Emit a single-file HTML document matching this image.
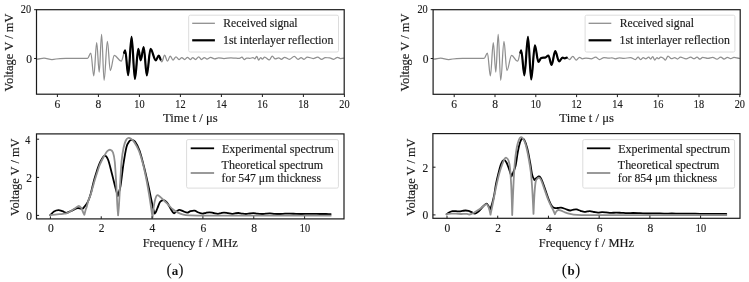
<!DOCTYPE html>
<html><head><meta charset="utf-8"><title>Figure</title>
<style>html,body{margin:0;padding:0;background:#fff;width:749px;height:282px;overflow:hidden;font-family:"Liberation Serif",serif}svg{display:block;will-change:transform}text{stroke:#1a1a1a;stroke-width:0.15px;paint-order:fill}</style>
</head><body>
<svg width="749" height="282" viewBox="0 0 749 282" font-family='"Liberation Serif", serif'>
<path d="M37.2,59.2 C39.65,59.2 41.55,58.2 44,58.2 C46.88,58.2 49.12,59.5 52,59.5 C54.88,59.5 57.12,58.5 60,58.5 C64.32,58.5 67.68,58.4 72,58.4 C77.58,58.4 81.92,58.4 87.5,58.4 C88.69,58.4 89.61,53 90.8,53 C91.88,53 92.72,75.9 93.8,75.9 C94.84,75.9 95.66,42.7 96.7,42.7 C97.6,42.7 98.3,72 99.2,72 C100.06,72 100.74,34.3 101.6,34.3 C102.5,34.3 103.2,80.3 104.1,80.3 C105.29,80.3 106.21,41.3 107.4,41.3 C108.44,41.3 109.26,70.6 110.3,70.6 C111.74,70.6 112.86,55.4 114.3,55.4 C116.78,55.4 118.72,61.1 121.2,61.1 C122.64,61.1 123.76,50.4 125.2,50.4 C126.28,50.4 127.12,75.2 128.2,75.2 C129.42,75.2 130.38,36.8 131.6,36.8 C132.79,36.8 133.71,78.9 134.9,78.9 C136.12,78.9 137.08,48.8 138.3,48.8 C139.16,48.8 139.84,60.3 140.7,60.3 C141.78,60.3 142.62,47 143.7,47 C144.82,47 145.68,75.4 146.8,75.4 C148.13,75.4 149.17,48.9 150.5,48.9 C152.41,48.9 153.89,60.3 155.8,60.3 C156.88,60.3 157.72,55.6 158.8,55.6 C159.88,55.6 160.72,61.8 161.8,61.8 C162.81,61.8 163.59,55.2 164.6,55.2 C165.64,55.2 166.46,61.2 167.5,61.2 C168.47,61.2 169.23,56 170.2,56 C171.21,56 171.99,60 173,60 C174.08,60 174.92,56.8 176,56.8 C177.08,56.8 177.92,59.6 179,59.6 C180.01,59.6 180.79,57.6 181.8,57.6 C182.81,57.6 183.59,59.5 184.6,59.5 C185.64,59.5 186.46,57.4 187.5,57.4 C188.51,57.4 189.29,59.5 190.3,59.5 C191.16,59.5 191.84,57.6 192.7,57.6 C193.71,57.6 194.49,59.5 195.5,59.5 C196.65,59.5 197.55,56.8 198.7,56.8 C199.71,56.8 200.49,59.5 201.5,59.5 C202.51,59.5 203.29,57.6 204.3,57.6 C205.27,57.6 206.03,59 207,59 C208.3,59 209.3,57.4 210.6,57.4 C212.04,57.4 213.16,58.8 214.6,58.8 C216.04,58.8 217.16,57.8 218.6,57.8 C220.54,57.8 222.06,58.5 224,58.5 C226.52,58.5 228.48,57.9 231,57.9 C232.8,57.9 234.2,58.2 236,58.2 C237.26,58.2 238.24,58.4 239.5,58.4 C240.36,58.4 241.04,57.2 241.9,57.2 C242.76,57.2 243.44,59.6 244.3,59.6 C245.16,59.6 245.84,58 246.7,58 C247.85,58 248.75,58.4 249.9,58.4 C251.02,58.4 251.88,57.6 253,57.6 C253.61,57.6 254.09,58.8 254.7,58.8 C255.42,58.8 255.98,56.4 256.7,56.4 C257.42,56.4 257.98,60 258.7,60 C259.42,60 259.98,57.6 260.7,57.6 C261.28,57.6 261.72,59.2 262.3,59.2 C263.13,59.2 263.77,57.2 264.6,57.2 C266.29,57.2 267.61,59.9 269.3,59.9 C270.38,59.9 271.22,56.2 272.3,56.2 C273.34,56.2 274.16,58.9 275.2,58.9 C276.46,58.9 277.44,57.9 278.7,57.9 C279.67,57.9 280.43,59.3 281.4,59.3 C282.55,59.3 283.45,57.3 284.6,57.3 C286.29,57.3 287.61,59.3 289.3,59.3 C291.1,59.3 292.5,56.4 294.3,56.4 C295.67,56.4 296.73,59.3 298.1,59.3 C299.18,59.3 300.02,57.6 301.1,57.6 C302.14,57.6 302.96,59.3 304,59.3 C305.19,59.3 306.11,57 307.3,57 C309.42,57 311.08,58.5 313.2,58.5 C314.78,58.5 316.02,57.2 317.6,57.2 C319.08,57.2 320.22,59.3 321.7,59.3 C322.96,59.3 323.94,57.6 325.2,57.6 C326.78,57.6 328.02,57.9 329.6,57.9 C331.08,57.9 332.22,59.3 333.7,59.3 C335.07,59.3 336.13,57.3 337.5,57.3 C338.58,57.3 339.42,58.5 340.5,58.5 C341.65,58.5 342.55,58.2 343.7,58.2" fill="none" stroke="#8f8f8f" stroke-width="1.25" stroke-linejoin="round" stroke-linecap="round"/>
<path d="M124.1,52.8 C124.47,52 124.83,50.4 125.2,50.4 C126.28,50.4 127.12,75.2 128.2,75.2 C129.42,75.2 130.38,36.8 131.6,36.8 C132.79,36.8 133.71,78.9 134.9,78.9 C136.12,78.9 137.08,48.8 138.3,48.8 C139.16,48.8 139.84,60.3 140.7,60.3 C141.78,60.3 142.62,47 143.7,47 C144.82,47 145.68,75.4 146.8,75.4 C148.13,75.4 149.17,48.9 150.5,48.9 C152.41,48.9 153.89,60.3 155.8,60.3 C156.88,60.3 157.72,55.6 158.8,55.6 C159.4,55.6 160,58.27 160.6,59.6" fill="none" stroke="#000" stroke-width="2.2" stroke-linejoin="round" stroke-linecap="round"/>
<rect x="36.5" y="9.7" width="307.7" height="84.5" fill="none" stroke="#1a1a1a" stroke-width="1.2"/>
<line x1="34.1" y1="9.7" x2="36.5" y2="9.7" stroke="#1a1a1a" stroke-width="1.0"/>
<line x1="34.1" y1="58.5" x2="36.5" y2="58.5" stroke="#1a1a1a" stroke-width="1.0"/>
<text x="31.1" y="13.4" font-size="11.5" text-anchor="end" fill="#1a1a1a" textLength="10.3" lengthAdjust="spacingAndGlyphs">20</text>
<text x="31.9" y="62.7" font-size="11.5" text-anchor="end" fill="#1a1a1a">0</text>
<line x1="57.4" y1="94.2" x2="57.4" y2="97" stroke="#1a1a1a" stroke-width="1.0"/>
<text x="57.4" y="107.8" font-size="11.5" text-anchor="middle" fill="#1a1a1a">6</text>
<line x1="98.4" y1="94.2" x2="98.4" y2="97" stroke="#1a1a1a" stroke-width="1.0"/>
<text x="98.4" y="107.8" font-size="11.5" text-anchor="middle" fill="#1a1a1a">8</text>
<line x1="139.4" y1="94.2" x2="139.4" y2="97" stroke="#1a1a1a" stroke-width="1.0"/>
<text x="139.4" y="107.8" font-size="11.5" text-anchor="middle" fill="#1a1a1a" textLength="10.3" lengthAdjust="spacingAndGlyphs">10</text>
<line x1="180.4" y1="94.2" x2="180.4" y2="97" stroke="#1a1a1a" stroke-width="1.0"/>
<text x="180.4" y="107.8" font-size="11.5" text-anchor="middle" fill="#1a1a1a" textLength="10.3" lengthAdjust="spacingAndGlyphs">12</text>
<line x1="221.4" y1="94.2" x2="221.4" y2="97" stroke="#1a1a1a" stroke-width="1.0"/>
<text x="221.4" y="107.8" font-size="11.5" text-anchor="middle" fill="#1a1a1a" textLength="10.3" lengthAdjust="spacingAndGlyphs">14</text>
<line x1="262.4" y1="94.2" x2="262.4" y2="97" stroke="#1a1a1a" stroke-width="1.0"/>
<text x="262.4" y="107.8" font-size="11.5" text-anchor="middle" fill="#1a1a1a" textLength="10.3" lengthAdjust="spacingAndGlyphs">16</text>
<line x1="303.4" y1="94.2" x2="303.4" y2="97" stroke="#1a1a1a" stroke-width="1.0"/>
<text x="303.4" y="107.8" font-size="11.5" text-anchor="middle" fill="#1a1a1a" textLength="10.3" lengthAdjust="spacingAndGlyphs">18</text>
<line x1="344.4" y1="94.2" x2="344.4" y2="97" stroke="#1a1a1a" stroke-width="1.0"/>
<text x="344.4" y="107.8" font-size="11.5" text-anchor="middle" fill="#1a1a1a" textLength="10.3" lengthAdjust="spacingAndGlyphs">20</text>
<text x="190.35" y="122.4" font-size="11.5" text-anchor="middle" fill="#1a1a1a" textLength="54.6" lengthAdjust="spacingAndGlyphs">Time t / μs</text>
<text transform="translate(12.7,52.5) rotate(-90)" font-size="11.5" text-anchor="middle" fill="#1a1a1a" textLength="78" lengthAdjust="spacingAndGlyphs">Voltage V / mV</text>
<rect x="188.7" y="15.2" width="149.8" height="36.8" rx="1.5" fill="#fff" fill-opacity="0.8" stroke="#dcdcdc" stroke-width="1"/>
<line x1="192.2" y1="23.3" x2="214.9" y2="23.3" stroke="#8f8f8f" stroke-width="1.3"/>
<line x1="192.2" y1="40.3" x2="214.9" y2="40.3" stroke="#000" stroke-width="2.2"/>
<text x="223.3" y="27.4" font-size="11.5" text-anchor="start" fill="#1a1a1a" textLength="74.3" lengthAdjust="spacingAndGlyphs">Received signal</text>
<text x="223.1" y="44.2" font-size="11.5" text-anchor="start" fill="#1a1a1a" textLength="110.3" lengthAdjust="spacingAndGlyphs">1st interlayer reflection</text>
<path d="M433.8,59.2 C436.25,59.2 438.15,58.2 440.6,58.2 C443.48,58.2 445.72,59.5 448.6,59.5 C451.48,59.5 453.72,58.5 456.6,58.5 C460.92,58.5 464.28,58.4 468.6,58.4 C474.18,58.4 478.52,58.4 484.1,58.4 C485.29,58.4 486.21,53 487.4,53 C488.48,53 489.32,75.9 490.4,75.9 C491.44,75.9 492.26,42.7 493.3,42.7 C494.2,42.7 494.9,72 495.8,72 C496.66,72 497.34,34.3 498.2,34.3 C499.1,34.3 499.8,80.3 500.7,80.3 C501.89,80.3 502.81,41.3 504,41.3 C505.04,41.3 505.86,70.6 506.9,70.6 C508.59,70.6 509.91,55.4 511.6,55.4 C513.72,55.4 515.38,61.2 517.5,61.2 C518.83,61.2 519.87,50.4 521.2,50.4 C522.35,50.4 523.25,75.3 524.4,75.3 C525.7,75.3 526.7,36.8 528,36.8 C529.15,36.8 530.05,79.5 531.2,79.5 C532.53,79.5 533.57,45.3 534.9,45.3 C536.16,45.3 537.14,61.9 538.4,61.9 C539.27,61.9 540.13,58.65 541,58.1 C542.4,57.21 543.8,57.6 545.2,57.6 C546.35,57.6 547.25,55.5 548.4,55.5 C549.55,55.5 550.45,64.9 551.6,64.9 C552.9,64.9 553.9,51.2 555.2,51.2 C556.6,51.2 557.7,61.5 559.1,61.5 C560.32,61.5 561.28,57.6 562.5,57.6 C563.33,57.6 563.97,58.3 564.8,58.3 C565.48,58.3 566.02,57.7 566.7,57.7 C567.74,57.7 568.56,59.5 569.6,59.5 C570.75,59.5 571.65,56.3 572.8,56.3 C574.06,56.3 575.04,60.1 576.3,60.1 C577.45,60.1 578.35,57.3 579.5,57.3 C580.51,57.3 581.29,58.8 582.3,58.8 C583.63,58.8 584.67,58.1 586,58.1 C587.87,58.1 589.33,58.8 591.2,58.8 C592.78,58.8 594.02,57.2 595.6,57.2 C597.04,57.2 598.16,59.6 599.6,59.6 C601.18,59.6 602.42,57.6 604,57.6 C605.8,57.6 607.2,58.2 609,58.2 C610.08,58.2 610.92,57.8 612,57.8 C613.15,57.8 614.05,58.8 615.2,58.8 C616.64,58.8 617.76,57.8 619.2,57.8 C620.93,57.8 622.27,58.4 624,58.4 C626.34,58.4 628.16,57.6 630.5,57.6 C632.23,57.6 633.57,59.6 635.3,59.6 C636.31,59.6 637.09,57.2 638.1,57.2 C638.96,57.2 639.64,59.6 640.5,59.6 C641.51,59.6 642.29,57.6 643.3,57.6 C644.16,57.6 644.84,58.8 645.7,58.8 C646.78,58.8 647.62,57.2 648.7,57.2 C649.42,57.2 649.98,59 650.7,59 C651.42,59 651.98,56.5 652.7,56.5 C653.42,56.5 653.98,60 654.7,60 C655.53,60 656.17,57.5 657,57.5 C657.5,57.5 657.9,58.7 658.4,58.7 C659.23,58.7 659.87,57.2 660.7,57.2 C661.6,57.2 662.5,57.74 663.4,58.3 C664.07,58.71 664.73,60.1 665.4,60.1 C666.34,60.1 667.06,56.1 668,56.1 C669.22,56.1 670.18,58.7 671.4,58.7 C672.59,58.7 673.51,57.7 674.7,57.7 C675.67,57.7 676.43,59 677.4,59 C678.48,59 679.32,57.2 680.4,57.2 C682.45,57.2 684.05,58.8 686.1,58.8 C687.76,58.8 689.04,57.2 690.7,57.2 C691.89,57.2 692.81,58.7 694,58.7 C695.08,58.7 695.92,57.2 697,57.2 C698.08,57.2 698.92,59.2 700,59.2 C700.97,59.2 701.73,57.3 702.7,57.3 C704.61,57.3 706.09,58.3 708,58.3 C709.69,58.3 711.01,57.3 712.7,57.3 C714.25,57.3 715.45,59.2 717,59.2 C718.33,59.2 719.37,57 720.7,57 C721.89,57 722.81,59 724,59 C725.22,59 726.18,57.3 727.4,57.3 C728.59,57.3 729.51,58.7 730.7,58.7 C731.89,58.7 732.81,57.3 734,57.3 C735.98,57.3 737.52,58.3 739.5,58.3" fill="none" stroke="#8f8f8f" stroke-width="1.25" stroke-linejoin="round" stroke-linecap="round"/>
<path d="M520.4,52.6 C520.67,51.87 520.93,50.4 521.2,50.4 C522.35,50.4 523.25,75.3 524.4,75.3 C525.7,75.3 526.7,36.8 528,36.8 C529.15,36.8 530.05,79.5 531.2,79.5 C532.53,79.5 533.57,45.3 534.9,45.3 C536.16,45.3 537.14,61.9 538.4,61.9 C539.27,61.9 540.13,58.65 541,58.1 C542.4,57.21 543.8,57.6 545.2,57.6 C546.35,57.6 547.25,55.5 548.4,55.5 C549.55,55.5 550.45,64.9 551.6,64.9 C552.9,64.9 553.9,51.2 555.2,51.2 C556.6,51.2 557.7,61.5 559.1,61.5 C560.32,61.5 561.28,57.6 562.5,57.6 C563.33,57.6 563.97,58.3 564.8,58.3 C565.48,58.3 566.02,57.7 566.7,57.7" fill="none" stroke="#000" stroke-width="2.2" stroke-linejoin="round" stroke-linecap="round"/>
<rect x="433.1" y="9.7" width="307.1" height="84.6" fill="none" stroke="#1a1a1a" stroke-width="1.2"/>
<line x1="430.7" y1="9.7" x2="433.1" y2="9.7" stroke="#1a1a1a" stroke-width="1.0"/>
<line x1="430.7" y1="58.5" x2="433.1" y2="58.5" stroke="#1a1a1a" stroke-width="1.0"/>
<text x="427.7" y="13.4" font-size="11.5" text-anchor="end" fill="#1a1a1a" textLength="10.3" lengthAdjust="spacingAndGlyphs">20</text>
<text x="428.5" y="62.7" font-size="11.5" text-anchor="end" fill="#1a1a1a">0</text>
<line x1="454.2" y1="94.3" x2="454.2" y2="97.1" stroke="#1a1a1a" stroke-width="1.0"/>
<text x="454.2" y="107.8" font-size="11.5" text-anchor="middle" fill="#1a1a1a">6</text>
<line x1="495" y1="94.3" x2="495" y2="97.1" stroke="#1a1a1a" stroke-width="1.0"/>
<text x="495" y="107.8" font-size="11.5" text-anchor="middle" fill="#1a1a1a">8</text>
<line x1="535.8" y1="94.3" x2="535.8" y2="97.1" stroke="#1a1a1a" stroke-width="1.0"/>
<text x="535.8" y="107.8" font-size="11.5" text-anchor="middle" fill="#1a1a1a" textLength="10.3" lengthAdjust="spacingAndGlyphs">10</text>
<line x1="576.6" y1="94.3" x2="576.6" y2="97.1" stroke="#1a1a1a" stroke-width="1.0"/>
<text x="576.6" y="107.8" font-size="11.5" text-anchor="middle" fill="#1a1a1a" textLength="10.3" lengthAdjust="spacingAndGlyphs">12</text>
<line x1="617.4" y1="94.3" x2="617.4" y2="97.1" stroke="#1a1a1a" stroke-width="1.0"/>
<text x="617.4" y="107.8" font-size="11.5" text-anchor="middle" fill="#1a1a1a" textLength="10.3" lengthAdjust="spacingAndGlyphs">14</text>
<line x1="658.2" y1="94.3" x2="658.2" y2="97.1" stroke="#1a1a1a" stroke-width="1.0"/>
<text x="658.2" y="107.8" font-size="11.5" text-anchor="middle" fill="#1a1a1a" textLength="10.3" lengthAdjust="spacingAndGlyphs">16</text>
<line x1="699" y1="94.3" x2="699" y2="97.1" stroke="#1a1a1a" stroke-width="1.0"/>
<text x="699" y="107.8" font-size="11.5" text-anchor="middle" fill="#1a1a1a" textLength="10.3" lengthAdjust="spacingAndGlyphs">18</text>
<line x1="739.8" y1="94.3" x2="739.8" y2="97.1" stroke="#1a1a1a" stroke-width="1.0"/>
<text x="739.8" y="107.8" font-size="11.5" text-anchor="middle" fill="#1a1a1a" textLength="10.3" lengthAdjust="spacingAndGlyphs">20</text>
<text x="586.65" y="122.4" font-size="11.5" text-anchor="middle" fill="#1a1a1a" textLength="54.6" lengthAdjust="spacingAndGlyphs">Time t / μs</text>
<text transform="translate(409.3,52.5) rotate(-90)" font-size="11.5" text-anchor="middle" fill="#1a1a1a" textLength="78" lengthAdjust="spacingAndGlyphs">Voltage V / mV</text>
<rect x="585.1" y="15.2" width="149.8" height="36.8" rx="1.5" fill="#fff" fill-opacity="0.8" stroke="#dcdcdc" stroke-width="1"/>
<line x1="588.6" y1="23.3" x2="611.3" y2="23.3" stroke="#8f8f8f" stroke-width="1.3"/>
<line x1="588.6" y1="40.3" x2="611.3" y2="40.3" stroke="#000" stroke-width="2.2"/>
<text x="619.7" y="27.4" font-size="11.5" text-anchor="start" fill="#1a1a1a" textLength="74.3" lengthAdjust="spacingAndGlyphs">Received signal</text>
<text x="619.5" y="44.2" font-size="11.5" text-anchor="start" fill="#1a1a1a" textLength="110.3" lengthAdjust="spacingAndGlyphs">1st interlayer reflection</text>
<path d="M50.2,215.1 C51.47,213.93 52.73,212.36 54,211.6 C55.47,210.72 56.93,210.27 58.4,210.2 C59.77,210.14 61.13,210.76 62.5,211.2 C63.8,211.62 65.1,212.83 66.4,212.8 C67.93,212.76 69.47,211.66 71,211 C73.13,210.09 75.27,208.64 77.4,208.1 C78.57,207.81 79.73,208.37 80.9,208.5 C81.53,208.57 82.17,208.63 82.8,208.7 C84.1,207.07 85.4,205.75 86.7,203.8 C87.33,202.85 87.97,201.59 88.6,200 C89.33,198.16 90.07,196.07 90.8,193.5 C91.4,191.4 92,188.42 92.6,186 C93.2,183.58 93.8,181.12 94.4,179 C95.17,176.29 95.93,173.89 96.7,171.5 C97.43,169.22 98.17,166.83 98.9,165 C99.7,163 100.5,161.33 101.3,160 C102.37,158.23 103.43,155.78 104.5,155.7 C105.67,155.61 106.83,156.65 108,159.5 C109.33,162.75 110.67,168.93 112,174 C113.17,178.43 114.33,183.57 115.5,188 C116.27,190.91 117.03,193.33 117.8,196 C118.7,192.67 119.6,191.07 120.5,186 C121.43,180.74 122.37,171.07 123.3,165 C124.37,158.07 125.43,151.13 126.5,147 C127.5,143.13 128.5,142.33 129.5,141 C130.3,139.93 131.1,139.71 131.9,139.8 C132.93,139.91 133.97,140.15 135,141.6 C136.5,143.71 138,146.34 139.5,150.5 C140.93,154.47 142.37,160.35 143.8,166 C145.2,171.52 146.6,177.72 148,184 C149.2,189.38 150.4,195.33 151.6,201 C152.2,203.83 152.8,207.14 153.4,209.5 C153.87,211.34 154.33,213.72 154.8,213.6 C155.63,213.39 156.47,210.36 157.3,208.5 C158.2,206.49 159.1,203.2 160,202 C161.2,200.4 162.4,200.01 163.6,200.1 C164.73,200.18 165.87,201.12 167,202.5 C168.17,203.92 169.33,206.69 170.5,208.5 C171.63,210.26 172.77,212.67 173.9,213.2 C174.77,213.6 175.63,211.82 176.5,211.3 C177.47,210.72 178.43,209.91 179.4,209.9 C180.6,209.88 181.8,210.79 183,211.2 C184.43,211.69 185.87,212.6 187.3,212.6 C188.37,212.6 189.43,211.48 190.5,211.2 C191.87,210.84 193.23,210.48 194.6,210.7 C195.9,210.91 197.2,212.01 198.5,212.5 C199.83,213.01 201.17,213.65 202.5,213.7 C203.67,213.75 204.83,213.03 206,212.8 C207.2,212.56 208.4,212.27 209.6,212.3 C210.9,212.33 212.2,212.77 213.5,213 C215,213.27 216.5,213.78 218,213.8 C219,213.81 220,213.3 221,213.1 C222,212.9 223,212.59 224,212.6 C225.33,212.62 226.67,212.98 228,213.2 C229.33,213.42 230.67,213.86 232,213.9 C233,213.93 234,213.54 235,213.4 C236.13,213.24 237.27,212.97 238.4,213 C239.6,213.03 240.8,213.44 242,213.6 C243.33,213.78 244.67,214.02 246,214 C247.33,213.98 248.67,213.64 250,213.5 C251.13,213.38 252.27,213.17 253.4,213.2 C254.6,213.23 255.8,213.59 257,213.7 C258.67,213.86 260.33,214.02 262,214 C263.33,213.99 264.67,213.7 266,213.6 C267.33,213.5 268.67,213.37 270,213.4 C271.33,213.43 272.67,213.72 274,213.8 C276,213.92 278,214.02 280,214 C281.67,213.98 283.33,213.77 285,213.7 C286.67,213.63 288.33,213.57 290,213.6 C292,213.64 294,213.83 296,213.9 C298,213.97 300,214.02 302,214 C304,213.98 306,213.82 308,213.8 C310,213.78 312,213.87 314,213.9 C316,213.93 318,213.98 320,214 C322,214.02 324,213.98 326,214 C327.57,214.01 329.13,214.07 330.7,214.1" fill="none" stroke="#000" stroke-width="1.8" stroke-linejoin="round" stroke-linecap="round"/>
<path d="M50.2,215.1 C51.8,214.93 53.4,214.76 55,214.6 C56.43,214.46 57.87,214.34 59.3,214.2 C60.53,214.08 61.77,213.96 63,213.8 C64.13,213.66 65.27,213.7 66.4,213.3 C67.93,212.76 69.47,211.89 71,211 C72.5,210.13 74,208.99 75.5,208 C76.63,207.25 77.77,205.8 78.9,205.8 C79.7,205.8 80.5,206.79 81.3,208 C81.87,208.86 82.43,210.76 83,212 C83.47,213.02 83.93,213.87 84.4,214.8 C84.8,213.2 85.2,211.37 85.6,210 C85.97,208.74 86.33,208.16 86.7,206.9 C87.23,205.06 87.77,202.35 88.3,200.7 C89.1,198.22 89.9,196.94 90.7,194.5 C91.4,192.37 92.1,189.48 92.8,187 C93.47,184.64 94.13,182.2 94.8,180 C95.6,177.36 96.4,174.97 97.2,172.5 C97.97,170.13 98.73,167.5 99.5,165.5 C100.33,163.33 101.17,161.67 102,160 C102.83,158.33 103.67,156.88 104.5,155.5 C105.43,153.95 106.37,152.12 107.3,151.2 C108.3,150.22 109.3,149.57 110.3,149.8 C111.2,150.01 112.1,150.06 113,152.5 C113.6,154.13 114.2,156.09 114.8,162 C115.3,166.92 115.8,176.4 116.3,185 C116.63,190.73 116.97,199.37 117.3,205 C117.57,209.5 117.83,211.93 118.1,215.4 C118.4,211.93 118.7,209.63 119,205 C119.4,198.83 119.8,189.88 120.2,183 C120.63,175.55 121.07,166.6 121.5,162 C122.17,154.93 122.83,151.33 123.5,148 C124.27,144.17 125.03,142.17 125.8,140.5 C126.57,138.83 127.33,138.25 128.1,138 C129.07,137.68 130.03,138.12 131,138.8 C132.17,139.62 133.33,140.72 134.5,142.5 C136,144.79 137.5,147.21 139,151 C140.33,154.37 141.67,158.84 143,164 C144.17,168.51 145.33,174.08 146.5,180 C147.5,185.08 148.5,190.96 149.5,197 C150.1,200.63 150.7,204.88 151.3,209 C151.7,211.75 152.1,214.73 152.5,217.6 C152.9,214.07 153.3,209.66 153.7,207 C154.23,203.46 154.77,200.85 155.3,199 C155.9,196.92 156.5,195.48 157.1,195.2 C158.07,194.75 159.03,196.06 160,196.8 C161.33,197.82 162.67,199.21 164,200.5 C165.5,201.95 167,203.5 168.5,205 C169.93,206.43 171.37,208.15 172.8,209.3 C174.53,210.69 176.27,211.71 178,212.6 C179.77,213.51 181.53,214.29 183.3,214.7 C185.53,215.22 187.77,215.28 190,215.4 C193.33,215.58 196.67,215.57 200,215.6 C205,215.64 210,215.59 215,215.6 C223.33,215.62 231.67,215.69 240,215.7 C253.33,215.72 266.67,215.7 280,215.7 C296.9,215.7 313.8,215.7 330.7,215.7" fill="none" stroke="#8f8f8f" stroke-width="1.8" stroke-linejoin="round" stroke-linecap="round"/>
<rect x="36.5" y="133.9" width="307.5" height="85" fill="none" stroke="#1a1a1a" stroke-width="1.2"/>
<line x1="36.5" y1="215.4" x2="39.1" y2="215.4" stroke="#1a1a1a" stroke-width="1.0"/>
<text x="31.9" y="219.7" font-size="11.5" text-anchor="end" fill="#1a1a1a">0</text>
<line x1="36.5" y1="177.4" x2="39.1" y2="177.4" stroke="#1a1a1a" stroke-width="1.0"/>
<text x="31.9" y="181.7" font-size="11.5" text-anchor="end" fill="#1a1a1a">2</text>
<line x1="36.5" y1="139.2" x2="39.1" y2="139.2" stroke="#1a1a1a" stroke-width="1.0"/>
<text x="30.3" y="143.5" font-size="11.5" text-anchor="end" fill="#1a1a1a" textLength="5" lengthAdjust="spacingAndGlyphs">4</text>
<line x1="50.4" y1="218.9" x2="50.4" y2="216.3" stroke="#1a1a1a" stroke-width="1.0"/>
<text x="50.8" y="231.8" font-size="11.5" text-anchor="middle" fill="#1a1a1a">0</text>
<line x1="101.24" y1="218.9" x2="101.24" y2="216.3" stroke="#1a1a1a" stroke-width="1.0"/>
<text x="101.64" y="231.8" font-size="11.5" text-anchor="middle" fill="#1a1a1a">2</text>
<line x1="152.08" y1="218.9" x2="152.08" y2="216.3" stroke="#1a1a1a" stroke-width="1.0"/>
<text x="152.48" y="231.8" font-size="11.5" text-anchor="middle" fill="#1a1a1a">4</text>
<line x1="202.92" y1="218.9" x2="202.92" y2="216.3" stroke="#1a1a1a" stroke-width="1.0"/>
<text x="203.32" y="231.8" font-size="11.5" text-anchor="middle" fill="#1a1a1a">6</text>
<line x1="253.76" y1="218.9" x2="253.76" y2="216.3" stroke="#1a1a1a" stroke-width="1.0"/>
<text x="254.16" y="231.8" font-size="11.5" text-anchor="middle" fill="#1a1a1a">8</text>
<line x1="304.6" y1="218.9" x2="304.6" y2="216.3" stroke="#1a1a1a" stroke-width="1.0"/>
<text x="305" y="231.8" font-size="11.5" text-anchor="middle" fill="#1a1a1a" textLength="10.3" lengthAdjust="spacingAndGlyphs">10</text>
<text x="190.25" y="247.4" font-size="11.5" text-anchor="middle" fill="#1a1a1a" textLength="95.2" lengthAdjust="spacingAndGlyphs">Frequency f / MHz</text>
<text transform="translate(18.9,177.2) rotate(-90)" font-size="11.5" text-anchor="middle" fill="#1a1a1a" textLength="77.5" lengthAdjust="spacingAndGlyphs">Voltage V / mV</text>
<rect x="186.6" y="139.6" width="151.8" height="48.5" rx="1.5" fill="#fff" fill-opacity="0.8" stroke="#dcdcdc" stroke-width="1"/>
<line x1="190.7" y1="148.3" x2="214.1" y2="148.3" stroke="#000" stroke-width="1.8"/>
<line x1="190.7" y1="173" x2="214.1" y2="173" stroke="#8f8f8f" stroke-width="1.8"/>
<text x="222" y="152.6" font-size="11.5" text-anchor="start" fill="#1a1a1a" textLength="111.8" lengthAdjust="spacingAndGlyphs">Experimental spectrum</text>
<text x="221.6" y="168.5" font-size="11.5" text-anchor="start" fill="#1a1a1a" textLength="101.6" lengthAdjust="spacingAndGlyphs">Theoretical spectrum</text>
<text x="221.6" y="181.5" font-size="11.5" text-anchor="start" fill="#1a1a1a" textLength="99.4" lengthAdjust="spacingAndGlyphs">for 547 μm thickness</text>
<path d="M446.6,214.2 C447.57,213.53 448.53,212.71 449.5,212.2 C450.5,211.67 451.5,211.25 452.5,211.1 C453.67,210.92 454.83,211.15 456,211.2 C457.1,211.25 458.2,211.45 459.3,211.4 C460.37,211.35 461.43,211.05 462.5,210.9 C463.53,210.75 464.57,210.5 465.6,210.5 C466.57,210.5 467.53,210.65 468.5,210.9 C469.33,211.12 470.17,211.55 471,211.9 C472.33,212.45 473.67,213.75 475,213.6 C476.33,213.45 477.67,212.18 479,211 C480.33,209.82 481.67,207.82 483,206.5 C484.17,205.35 485.33,203.71 486.5,203.6 C487.17,203.54 487.83,204.94 488.5,206 C489.07,206.9 489.63,208.33 490.2,209.5 C490.9,207.33 491.6,205.49 492.3,203 C492.87,200.99 493.43,198.91 494,196 C494.67,192.58 495.33,187.41 496,184 C496.83,179.74 497.67,176.33 498.5,173 C499.33,169.67 500.17,166.12 501,164 C501.87,161.79 502.73,160.24 503.6,160 C504.57,159.74 505.53,160.89 506.5,162.5 C507.33,163.89 508.17,166.67 509,169 C509.83,171.33 510.67,174 511.5,176.5 C512.83,173 514.17,171.19 515.5,166 C516.27,163.02 517.03,156 517.8,152 C518.53,148.17 519.27,144.84 520,142.5 C520.63,140.48 521.27,139.27 521.9,138.9 C522.7,138.43 523.5,138.58 524.3,140 C525.3,141.78 526.3,144.6 527.3,148.5 C528.27,152.27 529.23,157.77 530.2,163 C530.87,166.61 531.53,172.3 532.2,175 C532.93,177.97 533.67,178.33 534.4,180 C535.1,179.33 535.8,178.58 536.5,178 C537.2,177.42 537.9,176.65 538.6,176.5 C539.17,176.38 539.73,176.49 540.3,177.2 C540.93,177.99 541.57,179.41 542.2,181 C543.27,183.68 544.33,186.98 545.4,190 C546.57,193.31 547.73,197.04 548.9,200 C549.77,202.2 550.63,204.02 551.5,205.5 C552.1,206.52 552.7,207.09 553.3,207.5 C554.03,208 554.77,208.11 555.5,208.2 C556.17,208.28 556.83,208.07 557.5,208 C558.67,207.87 559.83,207.45 561,207.6 C562.5,207.79 564,208.52 565.5,209 C567.03,209.49 568.57,210.38 570.1,210.5 C571.23,210.59 572.37,209.79 573.5,209.6 C574.5,209.43 575.5,209.23 576.5,209.4 C577.83,209.63 579.17,210.38 580.5,210.8 C581.83,211.22 583.17,211.79 584.5,211.9 C585.5,211.99 586.5,211.53 587.5,211.4 C588.3,211.3 589.1,211.13 589.9,211.2 C591.27,211.33 592.63,211.76 594,212 C595.33,212.23 596.67,212.57 598,212.6 C599.33,212.63 600.67,212.23 602,212.2 C603.33,212.17 604.67,212.3 606,212.4 C607.67,212.53 609.33,212.87 611,212.9 C612.67,212.93 614.33,212.62 616,212.6 C617.67,212.58 619.33,212.71 621,212.8 C623,212.91 625,213.17 627,213.2 C629,213.23 631,213 633,213 C635.33,213 637.67,213.12 640,213.2 C642.67,213.29 645.33,213.48 648,213.5 C650.67,213.52 653.33,213.28 656,213.3 C658.67,213.32 661.33,213.57 664,213.6 C666.67,213.63 669.33,213.48 672,213.5 C674.67,213.52 677.33,213.69 680,213.7 C683.33,213.72 686.67,213.58 690,213.6 C693.33,213.62 696.67,213.77 700,213.8 C704,213.84 708,213.78 712,213.8 C716.77,213.82 721.53,213.87 726.3,213.9" fill="none" stroke="#000" stroke-width="1.8" stroke-linejoin="round" stroke-linecap="round"/>
<path d="M446.6,214.2 C448.2,214 449.8,213.69 451.4,213.6 C452.93,213.52 454.47,213.64 456,213.7 C457.67,213.77 459.33,213.97 461,214 C462.9,214.04 464.8,213.78 466.7,213.9 C467.53,213.95 468.37,214.55 469.2,214.5 C470.13,214.45 471.07,213.97 472,213.6 C472.77,213.3 473.53,212.95 474.3,212.5 C475.87,211.58 477.43,210.58 479,209.5 C480.33,208.58 481.67,207.44 483,206.5 C484.17,205.68 485.33,204.09 486.5,204.2 C487.17,204.26 487.83,205.58 488.5,207 C488.9,207.85 489.3,209.46 489.7,211 C489.97,212.03 490.23,213.47 490.5,214.7 C490.9,212.8 491.3,210.96 491.7,209 C492.3,206.06 492.9,203 493.5,200 C494.43,195.33 495.37,190.27 496.3,186 C497.33,181.27 498.37,176.73 499.4,173 C500.4,169.39 501.4,166.73 502.4,164 C503.13,162 503.87,159.98 504.6,158.8 C505.17,157.88 505.73,157.45 506.3,157.7 C507.03,158.02 507.77,158.46 508.5,160.5 C509,161.89 509.5,163.46 510,168 C510.4,171.63 510.8,177.89 511.2,185 C511.4,188.56 511.6,194 511.8,200 C511.93,204 512.07,210 512.2,215 C512.4,210 512.6,204.71 512.8,200 C513.07,193.71 513.33,186.93 513.6,182 C514,174.6 514.4,167.39 514.8,163 C515.43,156.05 516.07,151.64 516.7,148 C517.4,143.98 518.1,141.92 518.8,140 C519.4,138.35 520,137.51 520.6,137.3 C521.4,137.01 522.2,137.32 523,138.5 C523.93,139.88 524.87,141.75 525.8,145 C526.73,148.25 527.67,152.96 528.6,158 C529.33,161.96 530.07,165.66 530.8,172 C531.3,176.32 531.8,182.24 532.3,190 C532.7,196.21 533.1,205.93 533.5,213.9 C533.8,207.6 534.1,199.56 534.4,195 C534.8,188.92 535.2,184.19 535.6,182 C536.2,178.72 536.8,179.28 537.4,178.6 C538.03,177.88 538.67,177.49 539.3,177.8 C539.97,178.12 540.63,178.99 541.3,180.5 C542.43,183.06 543.57,186.84 544.7,190 C545.9,193.34 547.1,197 548.3,200 C549.3,202.5 550.3,204.44 551.3,206.5 C552,207.94 552.7,209 553.4,210.5 C553.9,211.57 554.4,212.97 554.9,214.2 C555.43,213.23 555.97,211.94 556.5,211.3 C557.13,210.54 557.77,210.1 558.4,210 C559.27,209.87 560.13,210.3 561,210.6 C562.33,211.06 563.67,211.83 565,212.3 C566.67,212.89 568.33,213.45 570,213.8 C572.33,214.29 574.67,214.65 577,214.8 C581.33,215.08 585.67,215.07 590,215.1 C600,215.17 610,215.09 620,215.1 C640,215.12 660,215.18 680,215.2 C695.43,215.21 710.87,215.2 726.3,215.2" fill="none" stroke="#8f8f8f" stroke-width="1.8" stroke-linejoin="round" stroke-linecap="round"/>
<rect x="432.9" y="133.6" width="307.1" height="84.7" fill="none" stroke="#1a1a1a" stroke-width="1.2"/>
<line x1="432.9" y1="214.9" x2="435.5" y2="214.9" stroke="#1a1a1a" stroke-width="1.0"/>
<text x="428.3" y="219.2" font-size="11.5" text-anchor="end" fill="#1a1a1a">0</text>
<line x1="432.9" y1="167.2" x2="435.5" y2="167.2" stroke="#1a1a1a" stroke-width="1.0"/>
<text x="428.3" y="171.5" font-size="11.5" text-anchor="end" fill="#1a1a1a">2</text>
<line x1="447" y1="218.3" x2="447" y2="215.7" stroke="#1a1a1a" stroke-width="1.0"/>
<text x="447.4" y="231.8" font-size="11.5" text-anchor="middle" fill="#1a1a1a">0</text>
<line x1="497.72" y1="218.3" x2="497.72" y2="215.7" stroke="#1a1a1a" stroke-width="1.0"/>
<text x="498.12" y="231.8" font-size="11.5" text-anchor="middle" fill="#1a1a1a">2</text>
<line x1="548.44" y1="218.3" x2="548.44" y2="215.7" stroke="#1a1a1a" stroke-width="1.0"/>
<text x="548.84" y="231.8" font-size="11.5" text-anchor="middle" fill="#1a1a1a">4</text>
<line x1="599.16" y1="218.3" x2="599.16" y2="215.7" stroke="#1a1a1a" stroke-width="1.0"/>
<text x="599.56" y="231.8" font-size="11.5" text-anchor="middle" fill="#1a1a1a">6</text>
<line x1="649.88" y1="218.3" x2="649.88" y2="215.7" stroke="#1a1a1a" stroke-width="1.0"/>
<text x="650.28" y="231.8" font-size="11.5" text-anchor="middle" fill="#1a1a1a">8</text>
<line x1="700.6" y1="218.3" x2="700.6" y2="215.7" stroke="#1a1a1a" stroke-width="1.0"/>
<text x="701" y="231.8" font-size="11.5" text-anchor="middle" fill="#1a1a1a" textLength="10.3" lengthAdjust="spacingAndGlyphs">10</text>
<text x="586.45" y="247.4" font-size="11.5" text-anchor="middle" fill="#1a1a1a" textLength="95.2" lengthAdjust="spacingAndGlyphs">Frequency f / MHz</text>
<text transform="translate(415.3,177.2) rotate(-90)" font-size="11.5" text-anchor="middle" fill="#1a1a1a" textLength="77.5" lengthAdjust="spacingAndGlyphs">Voltage V / mV</text>
<rect x="582.8" y="139.6" width="151.8" height="48.5" rx="1.5" fill="#fff" fill-opacity="0.8" stroke="#dcdcdc" stroke-width="1"/>
<line x1="586.9" y1="148.3" x2="610.3" y2="148.3" stroke="#000" stroke-width="1.8"/>
<line x1="586.9" y1="173" x2="610.3" y2="173" stroke="#8f8f8f" stroke-width="1.8"/>
<text x="618.2" y="152.6" font-size="11.5" text-anchor="start" fill="#1a1a1a" textLength="111.8" lengthAdjust="spacingAndGlyphs">Experimental spectrum</text>
<text x="617.8" y="168.5" font-size="11.5" text-anchor="start" fill="#1a1a1a" textLength="101.6" lengthAdjust="spacingAndGlyphs">Theoretical spectrum</text>
<text x="617.8" y="181.5" font-size="11.5" text-anchor="start" fill="#1a1a1a" textLength="99.4" lengthAdjust="spacingAndGlyphs">for 854 μm thickness</text>
<text x="175.0" y="275.4" font-size="15.8" text-anchor="middle" fill="#111" style="stroke:none">(<tspan font-weight="bold" font-size="13">a</tspan>)</text>
<text x="571.0" y="275.4" font-size="15.8" text-anchor="middle" fill="#111" style="stroke:none">(<tspan font-weight="bold" font-size="13" dx="0.4">b</tspan><tspan dx="0.4">)</tspan></text>
</svg>
</body></html>
